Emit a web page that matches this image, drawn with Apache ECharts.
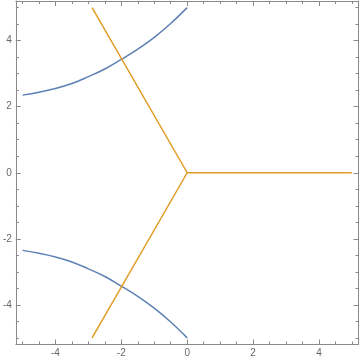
<!DOCTYPE html>
<html>
<head>
<meta charset="utf-8">
<script src="https://cdn.jsdelivr.net/npm/echarts@6/dist/echarts.min.js"></script>
<style>html,body{margin:0;padding:0;background:#fff;}#c{width:360px;height:361px;}</style>
</head>
<body>
<div id="c"></div>
<script>
// Data
const curveX = [-5, -4.5, -4, -3.5, -3, -2.5, -2, -1.5, -1, -0.5, 0];
const upperCurveY = [2.35, 2.44, 2.55, 2.70, 2.91, 3.14, 3.43, 3.74, 4.10, 4.52, 5.0];
const lowerCurveY = [-2.35, -2.44, -2.55, -2.70, -2.91, -3.14, -3.43, -3.74, -4.10, -4.52, -5.0];
const rayUpperX = [-2.887, 0, 5];
const rayUpperY = [5, 0, 0];
const rayLowerX = [-2.887, 0];
const rayLowerY = [-5, 0];
const majorTicks = [-4, -2, 0, 2, 4];
const minorTicks = [-5, -4.5, -4, -3.5, -3, -2.5, -2, -1.5, -1, -0.5, 0, 0.5, 1, 1.5, 2, 2.5, 3, 3.5, 4, 4.5, 5];

const zip = (xs, ys) => xs.map((x, i) => [x, ys[i]]);
const frameColor = '#8a8a8a';
const labelColor = '#666';

function mkAxis(pos, ticks, len, labels, show) {
  return {
    type: 'value', position: pos, min: -5.2, max: 5.2,
    axisLine: { show: show, onZero: false, lineStyle: { color: frameColor, width: 1 } },
    splitLine: { show: false },
    axisTick: { show: true, inside: true, length: len, customValues: ticks, lineStyle: { color: frameColor, width: 1 } },
    axisLabel: labels ? { show: true, customValues: majorTicks, color: labelColor, fontSize: 10, fontFamily: 'Liberation Sans, DejaVu Sans, sans-serif', margin: 4 } : { show: false }
  };
}

const chart = echarts.init(document.getElementById('c'), null, { renderer: 'canvas' });
chart.setOption({
  animation: false,
  backgroundColor: '#fff',
  grid: { left: 15, right: 1.5, top: 1, bottom: 16.5, containLabel: false },
  xAxis: [
    mkAxis('bottom', minorTicks, 3, true, true),
    mkAxis('bottom', majorTicks, 5, false, false),
    mkAxis('top', minorTicks, 3, false, true),
    mkAxis('top', majorTicks, 5, false, false)
  ],
  yAxis: [
    mkAxis('left', minorTicks, 3, true, true),
    mkAxis('left', majorTicks, 5, false, false),
    mkAxis('right', minorTicks, 3, false, true),
    mkAxis('right', majorTicks, 5, false, false)
  ],
  series: [
    { type: 'line', data: zip(curveX, upperCurveY), smooth: 0.4, showSymbol: false, lineStyle: { color: '#5E81B5', width: 1.5 } },
    { type: 'line', data: zip(curveX, lowerCurveY), smooth: 0.4, showSymbol: false, lineStyle: { color: '#5E81B5', width: 1.5 } },
    { type: 'line', data: zip(rayUpperX, rayUpperY), showSymbol: false, lineStyle: { color: '#E19C24', width: 1.5 } },
    { type: 'line', data: zip(rayLowerX, rayLowerY), showSymbol: false, lineStyle: { color: '#E19C24', width: 1.5 } }
  ]
});
</script>
</body>
</html>
